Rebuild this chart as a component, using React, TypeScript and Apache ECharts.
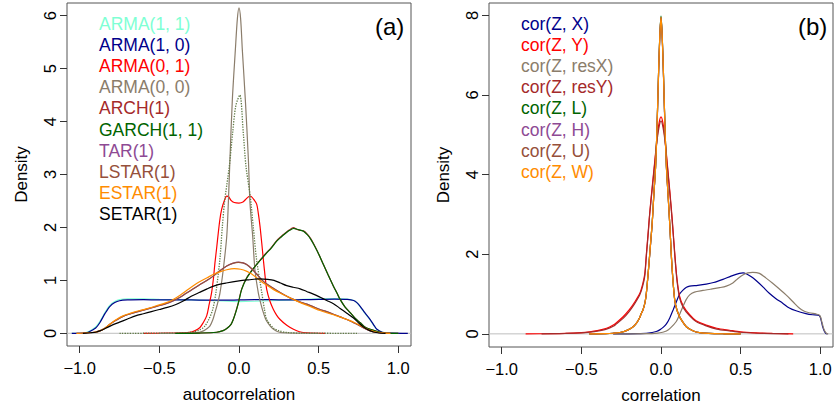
import React, { useEffect, useRef } from "react";
import * as echarts from "echarts";

// ---------- Panel (a): autocorrelation densities ----------
const legendA = ["ARMA(1, 1)", "ARMA(1, 0)", "ARMA(0, 1)", "ARMA(0, 0)", "ARCH(1)", "GARCH(1, 1)", "TAR(1)", "LSTAR(1)", "ESTAR(1)", "SETAR(1)"];
const colorsA = ["#7FFFD4", "#00008B", "#FF0000", "#8B7D6B", "#A52A2A", "#006400", "#8E4A94", "#96503A", "#FF8C00", "#000000"];

const arma11 = [[-1.05,0],[-0.97,0.008],[-0.94,0.04],[-0.9,0.12],[-0.874,0.22],[-0.84,0.4],[-0.81,0.53],[-0.78,0.6],[-0.75,0.635],[-0.7,0.65],[-0.6,0.65],[-0.5,0.64],[-0.4,0.635],[-0.3,0.63],[-0.2,0.62],[-0.1,0.61],[0,0.6],[0.1,0.605],[0.2,0.615],[0.3,0.625],[0.4,0.64],[0.5,0.65],[0.6,0.655],[0.68,0.645],[0.72,0.62],[0.74,0.58],[0.761,0.5],[0.79,0.38],[0.824,0.25],[0.85,0.13],[0.866,0.07],[0.9,0.02],[0.95,0.003],[1.0,0]];
const arma10 = [[-1.05,0],[-0.97,0.005],[-0.94,0.03],[-0.9,0.1],[-0.874,0.2],[-0.84,0.38],[-0.81,0.51],[-0.78,0.58],[-0.75,0.615],[-0.7,0.63],[-0.6,0.635],[-0.5,0.63],[-0.4,0.63],[-0.3,0.63],[-0.2,0.625],[-0.1,0.625],[0,0.63],[0.1,0.635],[0.2,0.635],[0.3,0.63],[0.4,0.635],[0.5,0.64],[0.6,0.645],[0.68,0.64],[0.72,0.62],[0.74,0.58],[0.761,0.51],[0.79,0.39],[0.824,0.26],[0.85,0.14],[0.866,0.075],[0.9,0.02],[0.95,0.003],[1.06,0]];
const arma01 = [[-0.6,0],[-0.45,0.003],[-0.35,0.01],[-0.3,0.025],[-0.275,0.05],[-0.245,0.11],[-0.225,0.2],[-0.203,0.33],[-0.187,0.55],[-0.172,0.77],[-0.16,1.05],[-0.151,1.33],[-0.14,1.62],[-0.13,1.9],[-0.12,2.15],[-0.109,2.34],[-0.093,2.5],[-0.077,2.59],[-0.065,2.58],[-0.05,2.51],[-0.03,2.47],[0,2.46],[0.025,2.48],[0.045,2.54],[0.06,2.58],[0.072,2.59],[0.09,2.54],[0.111,2.44],[0.122,2.25],[0.132,2.02],[0.143,1.7],[0.153,1.39],[0.163,1.1],[0.174,0.83],[0.195,0.6],[0.216,0.45],[0.237,0.34],[0.258,0.26],[0.3,0.15],[0.342,0.075],[0.38,0.03],[0.43,0.01],[0.54,0]];
const arma00 = [[-0.5,0],[-0.3,0.005],[-0.25,0.02],[-0.22,0.05],[-0.2,0.09],[-0.182,0.14],[-0.165,0.25],[-0.151,0.39],[-0.135,0.56],[-0.119,0.77],[-0.099,1.2],[-0.077,1.83],[-0.067,2.46],[-0.057,3.28],[-0.042,4.4],[-0.023,5.35],[-0.01,5.95],[0,6.15],[0.01,5.95],[0.021,5.35],[0.04,4.4],[0.059,3.28],[0.069,2.46],[0.086,1.83],[0.1,1.2],[0.121,0.77],[0.137,0.56],[0.153,0.39],[0.17,0.25],[0.195,0.14],[0.215,0.08],[0.24,0.035],[0.28,0.01],[0.5,0]];
const dottedRef = [[-0.75,0],[-0.4,0.003],[-0.3,0.02],[-0.25,0.06],[-0.216,0.13],[-0.19,0.26],[-0.165,0.45],[-0.145,0.77],[-0.12,1.4],[-0.105,2.0],[-0.09,2.5],[-0.061,3.15],[-0.04,3.78],[-0.02,4.3],[0.005,4.5],[0.027,3.78],[0.044,3.15],[0.07,2.6],[0.09,2.0],[0.11,1.4],[0.143,0.77],[0.16,0.45],[0.174,0.26],[0.216,0.1],[0.25,0.05],[0.3,0.015],[0.4,0.002],[0.75,0]];
const arch1 = [[-0.4,0],[-0.25,0.005],[-0.14,0.02],[-0.1,0.05],[-0.077,0.09],[-0.05,0.17],[-0.036,0.26],[-0.02,0.41],[-0.004,0.58],[0.017,0.84],[0.048,1.05],[0.08,1.19],[0.111,1.3],[0.14,1.41],[0.174,1.53],[0.2,1.61],[0.237,1.75],[0.265,1.83],[0.289,1.89],[0.315,1.95],[0.342,1.995],[0.365,1.96],[0.384,1.945],[0.405,1.935],[0.43,1.87],[0.45,1.79],[0.467,1.7],[0.5,1.5],[0.53,1.3],[0.56,1.1],[0.593,0.89],[0.615,0.76],[0.635,0.64],[0.665,0.5],[0.698,0.39],[0.73,0.28],[0.761,0.2],[0.79,0.12],[0.824,0.075],[0.86,0.04],[0.887,0.02],[0.93,0.005],[1.0,0]];
const garch11 = [[-0.4,0],[-0.25,0.005],[-0.14,0.02],[-0.1,0.05],[-0.077,0.09],[-0.05,0.17],[-0.036,0.26],[-0.02,0.4],[-0.004,0.57],[0.017,0.83],[0.048,1.04],[0.08,1.18],[0.111,1.3],[0.14,1.4],[0.174,1.52],[0.2,1.6],[0.237,1.74],[0.265,1.82],[0.289,1.88],[0.315,1.94],[0.342,1.98],[0.36,1.97],[0.384,1.95],[0.405,1.93],[0.43,1.86],[0.45,1.78],[0.467,1.69],[0.5,1.5],[0.53,1.3],[0.56,1.1],[0.593,0.89],[0.615,0.76],[0.635,0.64],[0.665,0.5],[0.698,0.39],[0.73,0.28],[0.761,0.2],[0.79,0.12],[0.824,0.075],[0.86,0.04],[0.887,0.02],[0.93,0.005],[1.0,0]];
const tar1 = [[-1.02,0],[-0.95,0.01],[-0.9,0.025],[-0.874,0.045],[-0.84,0.1],[-0.811,0.17],[-0.77,0.25],[-0.728,0.32],[-0.68,0.37],[-0.623,0.42],[-0.57,0.46],[-0.518,0.51],[-0.465,0.55],[-0.413,0.61],[-0.37,0.68],[-0.329,0.76],[-0.287,0.84],[-0.245,0.92],[-0.2,1.0],[-0.162,1.08],[-0.12,1.18],[-0.077,1.27],[-0.04,1.32],[-0.004,1.345],[0.025,1.33],[0.048,1.3],[0.08,1.22],[0.111,1.12],[0.14,1.02],[0.174,0.93],[0.215,0.85],[0.258,0.77],[0.3,0.7],[0.342,0.64],[0.385,0.59],[0.426,0.55],[0.467,0.5],[0.509,0.45],[0.55,0.41],[0.593,0.36],[0.635,0.31],[0.677,0.26],[0.72,0.2],[0.761,0.14],[0.79,0.09],[0.824,0.045],[0.86,0.02],[0.9,0.005],[0.95,0]];
const lstar1 = [[-1.02,0],[-0.95,0.01],[-0.9,0.025],[-0.874,0.045],[-0.84,0.1],[-0.811,0.17],[-0.77,0.25],[-0.728,0.32],[-0.68,0.37],[-0.623,0.42],[-0.57,0.465],[-0.518,0.51],[-0.465,0.555],[-0.413,0.615],[-0.37,0.68],[-0.329,0.76],[-0.287,0.84],[-0.245,0.92],[-0.2,1.0],[-0.162,1.08],[-0.12,1.18],[-0.077,1.27],[-0.04,1.32],[-0.004,1.34],[0.025,1.33],[0.048,1.3],[0.08,1.22],[0.111,1.12],[0.14,1.02],[0.174,0.93],[0.215,0.85],[0.258,0.77],[0.3,0.7],[0.342,0.64],[0.385,0.59],[0.426,0.55],[0.467,0.5],[0.509,0.45],[0.55,0.41],[0.593,0.36],[0.635,0.31],[0.677,0.26],[0.72,0.2],[0.761,0.14],[0.79,0.09],[0.824,0.045],[0.86,0.02],[0.9,0.005],[0.95,0]];
const estar1 = [[-1.02,0],[-0.95,0.01],[-0.9,0.025],[-0.874,0.045],[-0.84,0.1],[-0.811,0.17],[-0.77,0.26],[-0.728,0.33],[-0.68,0.38],[-0.623,0.43],[-0.57,0.47],[-0.518,0.52],[-0.465,0.57],[-0.413,0.64],[-0.37,0.72],[-0.329,0.81],[-0.287,0.9],[-0.245,0.98],[-0.2,1.05],[-0.162,1.11],[-0.12,1.16],[-0.077,1.2],[-0.03,1.22],[0.01,1.21],[0.05,1.17],[0.08,1.12],[0.111,1.05],[0.14,0.98],[0.174,0.91],[0.215,0.83],[0.258,0.76],[0.3,0.7],[0.342,0.64],[0.385,0.58],[0.426,0.53],[0.467,0.48],[0.509,0.43],[0.55,0.39],[0.593,0.35],[0.635,0.31],[0.677,0.26],[0.72,0.21],[0.761,0.15],[0.79,0.1],[0.824,0.055],[0.86,0.025],[0.9,0.007],[0.95,0]];
const setar1 = [[-0.98,0],[-0.93,0.01],[-0.9,0.02],[-0.874,0.045],[-0.84,0.09],[-0.8,0.15],[-0.75,0.21],[-0.7,0.27],[-0.65,0.33],[-0.6,0.37],[-0.55,0.41],[-0.5,0.45],[-0.45,0.49],[-0.4,0.54],[-0.35,0.61],[-0.3,0.7],[-0.25,0.77],[-0.2,0.84],[-0.14,0.91],[-0.08,0.95],[0,0.99],[0.06,1.01],[0.132,1.03],[0.18,1.02],[0.22,1.0],[0.26,0.95],[0.3,0.9],[0.34,0.87],[0.384,0.84],[0.425,0.79],[0.467,0.74],[0.51,0.68],[0.551,0.62],[0.593,0.56],[0.635,0.47],[0.677,0.38],[0.719,0.29],[0.75,0.2],[0.782,0.12],[0.815,0.06],[0.845,0.025],[0.88,0.006],[0.92,0]];
const dataA = [arma11, arma10, arma01, arma00, arch1, garch11, tar1, lstar1, estar1, setar1];

// ---------- Panel (b): correlation densities ----------
const legendB = ["cor(Z, X)", "cor(Z, Y)", "cor(Z, resX)", "cor(Z, resY)", "cor(Z, L)", "cor(Z, H)", "cor(Z, U)", "cor(Z, W)"];
const colorsB = ["#00008B", "#FF0000", "#8B7D6B", "#A52A2A", "#006400", "#8E4A94", "#96503A", "#FF8C00"];

const corX = [[-0.3,0],[-0.15,0.005],[-0.08,0.02],[-0.03,0.06],[-0.008,0.1],[0.015,0.17],[0.034,0.25],[0.055,0.4],[0.076,0.6],[0.096,0.8],[0.117,1.0],[0.138,1.1],[0.16,1.17],[0.18,1.2],[0.23,1.22],[0.284,1.25],[0.33,1.29],[0.389,1.37],[0.44,1.45],[0.493,1.52],[0.515,1.53],[0.535,1.51],[0.565,1.44],[0.597,1.34],[0.64,1.18],[0.68,1.02],[0.72,0.89],[0.764,0.77],[0.806,0.65],[0.848,0.58],[0.91,0.51],[0.952,0.48],[0.985,0.47],[0.998,0.44],[1.008,0.3],[1.015,0.18],[1.025,0.07],[1.035,0.01],[1.045,0]];
const corY = [[-0.85,0],[-0.7,0.005],[-0.6,0.012],[-0.5,0.03],[-0.447,0.05],[-0.4,0.08],[-0.342,0.14],[-0.3,0.22],[-0.28,0.28],[-0.238,0.43],[-0.2,0.6],[-0.165,0.8],[-0.133,1.02],[-0.115,1.25],[-0.102,1.5],[-0.092,2.0],[-0.081,2.53],[-0.071,3.03],[-0.055,3.7],[-0.04,4.3],[-0.025,4.9],[-0.012,5.3],[0,5.45],[0.012,5.3],[0.025,4.9],[0.04,4.25],[0.055,3.6],[0.07,2.9],[0.085,2.1],[0.1,1.4],[0.117,0.94],[0.14,0.7],[0.18,0.48],[0.22,0.33],[0.284,0.22],[0.35,0.14],[0.43,0.09],[0.5,0.05],[0.6,0.025],[0.7,0.01],[0.83,0]];
const corResX = [[-0.3,0],[-0.1,0.005],[-0.02,0.02],[0.01,0.04],[0.034,0.07],[0.06,0.15],[0.096,0.31],[0.118,0.5],[0.138,0.69],[0.158,0.86],[0.18,0.98],[0.21,1.05],[0.263,1.09],[0.31,1.12],[0.368,1.16],[0.41,1.2],[0.451,1.28],[0.48,1.38],[0.514,1.48],[0.545,1.53],[0.576,1.545],[0.618,1.52],[0.66,1.4],[0.701,1.27],[0.745,1.12],[0.785,0.98],[0.83,0.8],[0.868,0.65],[0.9,0.57],[0.93,0.53],[0.973,0.5],[0.99,0.48],[1.0,0.44],[1.01,0.3],[1.018,0.18],[1.028,0.07],[1.04,0.01],[1.05,0]];
const corResY = [[-0.75,0],[-0.6,0.01],[-0.5,0.025],[-0.447,0.045],[-0.4,0.07],[-0.342,0.12],[-0.3,0.19],[-0.28,0.25],[-0.238,0.39],[-0.2,0.56],[-0.165,0.76],[-0.133,0.98],[-0.115,1.2],[-0.102,1.45],[-0.092,1.95],[-0.081,2.48],[-0.071,3.0],[-0.055,3.65],[-0.04,4.25],[-0.025,4.85],[-0.012,5.2],[0,5.35],[0.012,5.2],[0.025,4.85],[0.04,4.2],[0.055,3.55],[0.07,2.85],[0.085,2.05],[0.1,1.35],[0.117,0.9],[0.14,0.66],[0.18,0.45],[0.22,0.31],[0.284,0.2],[0.35,0.12],[0.43,0.075],[0.5,0.04],[0.6,0.02],[0.7,0.008],[0.8,0]];
const corL = [[-0.45,0],[-0.35,0.005],[-0.3,0.015],[-0.25,0.04],[-0.207,0.1],[-0.175,0.18],[-0.154,0.27],[-0.135,0.4],[-0.123,0.52],[-0.113,0.61],[-0.1,0.8],[-0.092,1.02],[-0.077,1.7],[-0.065,2.3],[-0.055,2.8],[-0.045,3.5],[-0.034,4.2],[-0.025,5.2],[-0.015,6.6],[-0.007,7.55],[0,7.98],[0.007,7.55],[0.015,6.6],[0.025,5.2],[0.034,4.2],[0.045,3.45],[0.055,2.75],[0.069,1.7],[0.086,0.86],[0.1,0.6],[0.117,0.43],[0.128,0.35],[0.159,0.18],[0.2,0.08],[0.242,0.03],[0.3,0.01],[0.4,0.002],[0.5,0]];
const corH = [[-0.45,0],[-0.35,0.005],[-0.3,0.015],[-0.25,0.04],[-0.207,0.1],[-0.175,0.18],[-0.154,0.27],[-0.135,0.4],[-0.123,0.52],[-0.113,0.6],[-0.1,0.8],[-0.092,1.01],[-0.077,1.68],[-0.065,2.28],[-0.055,2.78],[-0.045,3.48],[-0.034,4.18],[-0.025,5.15],[-0.015,6.55],[-0.007,7.5],[0,7.93],[0.007,7.5],[0.015,6.55],[0.025,5.15],[0.034,4.18],[0.045,3.45],[0.055,2.75],[0.069,1.68],[0.086,0.85],[0.1,0.6],[0.117,0.43],[0.128,0.35],[0.159,0.18],[0.2,0.08],[0.242,0.03],[0.3,0.01],[0.4,0.002],[0.5,0]];
const corU = [[-0.45,0],[-0.35,0.005],[-0.3,0.015],[-0.25,0.04],[-0.207,0.1],[-0.175,0.18],[-0.154,0.27],[-0.135,0.4],[-0.123,0.52],[-0.113,0.6],[-0.1,0.8],[-0.092,1.02],[-0.077,1.69],[-0.065,2.29],[-0.055,2.8],[-0.045,3.5],[-0.034,4.2],[-0.025,5.18],[-0.015,6.58],[-0.007,7.52],[0,7.95],[0.007,7.52],[0.015,6.58],[0.025,5.18],[0.034,4.2],[0.045,3.45],[0.055,2.75],[0.069,1.69],[0.086,0.85],[0.1,0.6],[0.117,0.43],[0.128,0.35],[0.159,0.18],[0.2,0.08],[0.242,0.03],[0.3,0.01],[0.4,0.002],[0.5,0]];
const corW = [[-0.45,0],[-0.35,0.005],[-0.3,0.015],[-0.25,0.04],[-0.207,0.1],[-0.175,0.18],[-0.154,0.27],[-0.135,0.4],[-0.123,0.52],[-0.113,0.6],[-0.1,0.8],[-0.092,1.02],[-0.077,1.69],[-0.065,2.3],[-0.055,2.8],[-0.045,3.5],[-0.034,4.2],[-0.025,5.2],[-0.015,6.6],[-0.007,7.52],[0,7.95],[0.007,7.52],[0.015,6.6],[0.025,5.2],[0.034,4.2],[0.045,3.45],[0.055,2.75],[0.069,1.69],[0.086,0.85],[0.1,0.6],[0.117,0.43],[0.128,0.35],[0.159,0.18],[0.2,0.08],[0.242,0.03],[0.3,0.01],[0.4,0.002],[0.5,0]];
const dataB = [corX, corY, corResX, corResY, corL, corH, corU, corW];

const xTicks = [-1, -0.5, 0, 0.5, 1];
const yTicksA = [0, 1, 2, 3, 4, 5, 6];
const yTicksB = [0, 2, 4, 6, 8];
const xRange = [-1.08, 1.08];
const yRangeA = [-0.24, 6.24];
const yRangeB = [-0.33, 8.31];

const FONT = "'Liberation Sans', Arial, Helvetica, sans-serif";

export default function App() {
  const ref = useRef<HTMLDivElement>(null);
  useEffect(() => {
    if (!ref.current) return;
    const chart = echarts.init(ref.current, undefined, { renderer: "svg" });
    const fmtX = (v: number) => v.toFixed(1).replace("-", "\u2212");
    const mkX = (gi: number, name: string) => ({
      type: "value", gridIndex: gi, min: xRange[0], max: xRange[1],
      axisLine: { show: false, onZero: false },
      splitLine: { show: false },
      axisTick: { show: true, inside: false, length: 7, customValues: xTicks, lineStyle: { color: "#333", width: 1 } },
      axisLabel: { show: true, customValues: xTicks, formatter: fmtX, fontSize: 16.5, color: "#000", fontFamily: FONT, margin: 13 },
      name, nameLocation: "middle", nameGap: 40,
      nameTextStyle: { fontSize: 17, color: "#000", fontFamily: FONT },
    });
    const mkY = (gi: number, range: number[], ticks: number[]) => ({
      type: "value", gridIndex: gi, min: range[0], max: range[1],
      axisLine: { show: false, onZero: false },
      splitLine: { show: false },
      axisTick: { show: true, inside: false, length: 7, customValues: ticks, lineStyle: { color: "#333", width: 1 } },
      axisLabel: { show: true, customValues: ticks, rotate: 90, fontSize: 16.5, color: "#000", fontFamily: FONT, margin: 9 },
      name: "Density", nameLocation: "middle", nameGap: 37,
      nameTextStyle: { fontSize: 17, color: "#000", fontFamily: FONT },
    });
    const series: any[] = [];
    const baseline = (gi: number) => ({
      type: "line", name: "zero" + gi, xAxisIndex: gi, yAxisIndex: gi, silent: true,
      data: [[xRange[0], 0], [xRange[1], 0]], symbol: "none",
      lineStyle: { color: "#BEBEBE", width: 1 }, z: 1,
    });
    series.push(baseline(0));
    series.push(baseline(1));
    const line = (name: string, data: number[][], color: string, gi: number, extra: any = {}) => ({
      type: "line", name, data, xAxisIndex: gi, yAxisIndex: gi, symbol: "none", showSymbol: false,
      smooth: 0.3, color, lineStyle: { color, width: 1.2, ...extra }, z: 2,
    });
    legendA.forEach((n, i) => {
      series.push(line(n, dataA[i], colorsA[i], 0));
      if (i === 3) series.push(line("reference", dottedRef, "#5F7A45", 0, { type: "dotted", width: 1.3 }));
    });
    legendB.forEach((n, i) => series.push(line(n, dataB[i], colorsB[i], 1)));

    const mkLegend = (names: string[], colors: string[], left: number) => ({
      orient: "vertical", left, top: 13.5, padding: 0, itemGap: 0.1,
      itemWidth: 0, itemHeight: 0, icon: "rect", selectedMode: false,
      itemStyle: { opacity: 0 }, lineStyle: { opacity: 0 },
      textStyle: { fontSize: 17.5, fontFamily: FONT, lineHeight: 21 },
      data: names.map((n, i) => ({ name: n, textStyle: { color: colors[i], fontSize: 17.5, fontFamily: FONT, lineHeight: 21 } })),
    });

    chart.setOption({
      animation: false,
      backgroundColor: "#fff",
      textStyle: { fontFamily: FONT },
      title: [
        { text: "(a)", left: 375, top: 14, padding: 0, textStyle: { fontSize: 24, fontWeight: "normal", color: "#000", fontFamily: FONT } },
        { text: "(b)", left: 798, top: 14, padding: 0, textStyle: { fontSize: 24, fontWeight: "normal", color: "#000", fontFamily: FONT } },
      ],
      legend: [mkLegend(legendA, colorsA, 94), mkLegend(legendB, colorsB, 516)],
      grid: [
        { left: 67, top: 3, width: 344, height: 343, show: true, borderColor: "#555", borderWidth: 1, backgroundColor: "transparent" },
        { left: 489, top: 3, width: 344, height: 344, show: true, borderColor: "#555", borderWidth: 1, backgroundColor: "transparent" },
      ],
      xAxis: [mkX(0, "autocorrelation"), mkX(1, "correlation")],
      yAxis: [mkY(0, yRangeA, yTicksA), mkY(1, yRangeB, yTicksB)],
      series,
    });
    return () => chart.dispose();
  }, []);
  return <div ref={ref} style={{ position: "absolute", left: 0, top: 0, width: 835, height: 409 }} />;
}
